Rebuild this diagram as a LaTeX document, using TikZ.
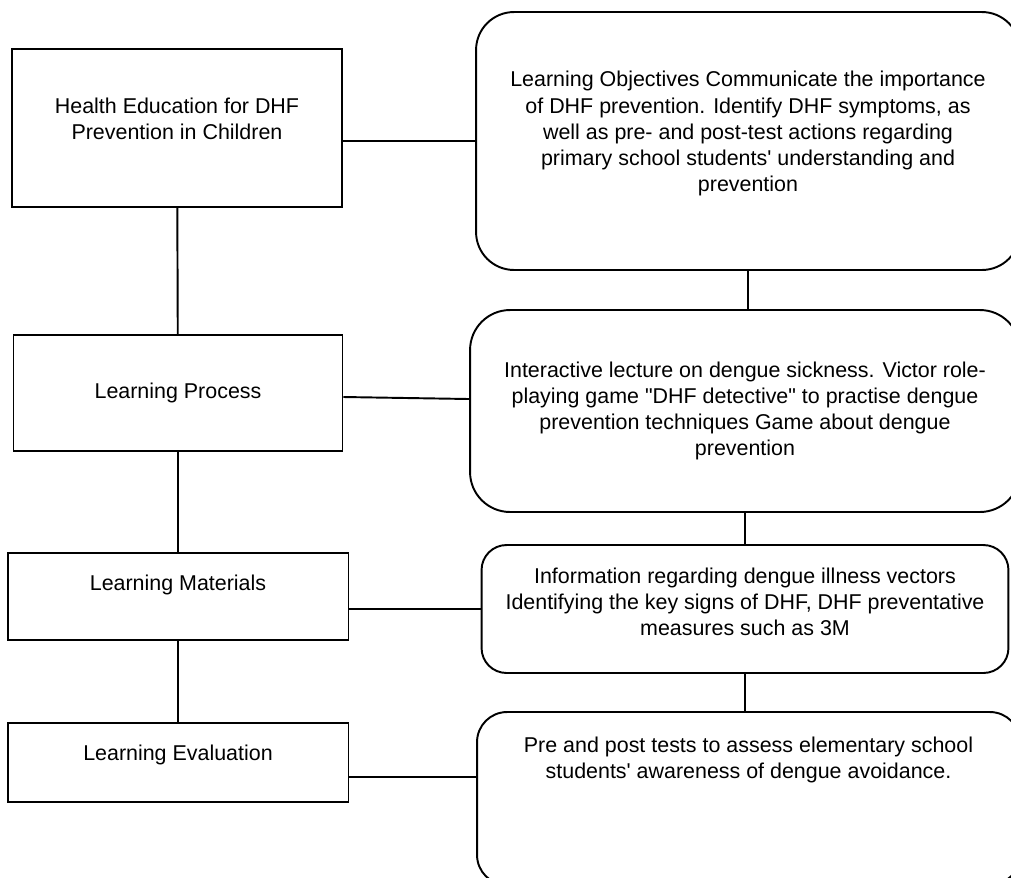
\documentclass[tikz,border=0pt]{standalone}
\usepackage{fontspec}
\setmainfont{Liberation Sans}[Ligatures=TeXOff]

\begin{document}
\begin{tikzpicture}[x=0.02cm, y=-0.02cm, line width=1.1pt,
		font=\fontsize{12.2}{14.9}\selectfont,
		sqbox/.style={draw, align=center, inner sep=0pt},
		rdbox/.style={draw, align=center, inner sep=0pt}]
		\useasboundingbox (0,0) rectangle (1011,877);
		\clip (0,0) rectangle (1011,877);
		
		% left column
		\node (h1) at (177,128) [sqbox, minimum width=6.6cm, minimum height=3.16cm, text depth=10.3pt] {Health Education for DHF\\Prevention in Children};
		\node (h2) at (178,393) [sqbox, minimum width=6.58cm, minimum height=2.32cm] {Learning Process};
		\node (h3) at (178,596.5) [sqbox, minimum width=6.82cm, minimum height=1.74cm, text depth=15.4pt] {Learning Materials};
		\node (h4) at (178,762.5) [sqbox, minimum width=6.82cm, minimum height=1.58cm, text depth=10.9pt] {Learning Evaluation};
		
		% right column
		\node (r1) at (748,141) [rdbox, rounded corners=0.76cm, minimum width=10.88cm, minimum height=5.16cm, text depth=10.9pt] {Learning Objectives Communicate the importance\\of DHF prevention. Identify DHF symptoms, as\\well as pre- and post-test actions regarding\\primary school students' understanding and\\prevention};
		\node (r2) at (745,411) [rdbox, rounded corners=0.8cm, minimum width=11cm, minimum height=4.04cm] {Interactive lecture on dengue sickness. Victor role-\\playing game "DHF detective" to practise dengue\\prevention techniques Game about dengue\\prevention};
		\node (r3) at (745,609) [rdbox, rounded corners=0.5cm, minimum width=10.54cm, minimum height=2.56cm, text depth=8.6pt] {Information regarding dengue illness vectors\\Identifying the key signs of DHF, DHF preventative\\measures such as 3M};
		\node (r4) at (748.5,798.5) [rdbox, rounded corners=0.6cm, minimum width=10.86cm, minimum height=3.46cm, text depth=46.6pt] {Pre and post tests to assess elementary school\\students' awareness of dengue avoidance.};
		
		\foreach \a/\b in {h1/h2,h2/h3,h3/h4} {
			\draw (\a) -- (\b);
		}
		\foreach \a/\b in {r1/r2,r2/r3,r3/r4} {
			\draw (\a.south) -- (\a.south |- \b.north);
		}
		
		\draw (r1.west -| h1.east) -- (r1.west);
		\draw ([yshift=-0.08cm]h2.east) -- ([yshift=0.24cm]r2.west);
		\draw (r3.west -| h3.east) -- (r3.west);
		\draw ([yshift=-0.29cm]h4.east) -- ([yshift=-0.29cm]h4.east -| r4.west);
		
	\end{tikzpicture}
\end{document}
